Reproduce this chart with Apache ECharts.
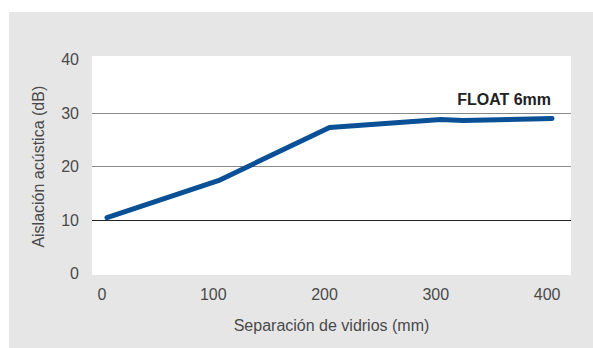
<!DOCTYPE html>
<html>
<head>
<meta charset="utf-8">
<script src="https://cdn.jsdelivr.net/npm/echarts@6/dist/echarts.min.js"></script>
<style>
html,body{margin:0;padding:0;background:#ffffff;}
#c{width:593px;height:348px;}
</style>
</head>
<body>
<div id="c"></div>
<script>
const separationMm = [0, 100, 200, 300, 320, 400];
const insulationDb = [10.5, 17.4, 27.3, 28.8, 28.6, 29.0];
const xTickLabels = [0, 100, 200, 300, 400];
const yTickLabels = [0, 10, 20, 30, 40];
const seriesName = 'FLOAT 6mm';
const xAxisTitle = 'Separación de vidrios (mm)';
const yAxisTitle = 'Aislación acústica (dB)';

const chart = echarts.init(document.getElementById('c'), null, {renderer: 'svg'});
const font = '"Liberation Sans", Arial, sans-serif';
const data = separationMm.map((x, i) => [x, insulationDb[i]]);

chart.setOption({
  animation: false,
  backgroundColor: '#ffffff',
  graphic: [
    {type: 'rect', z: -100, silent: true, shape: {x: 9, y: 12, width: 584, height: 336}, style: {fill: '#e6e6e6'}},
    {type: 'rect', z: -99, silent: true, shape: {x: 92, y: 56, width: 479, height: 219}, style: {fill: '#ffffff'}}
  ],
  grid: {left: 92, right: 22, top: 59.5, bottom: 74.1, containLabel: false},
  xAxis: {
    type: 'value',
    min: -13.5,
    max: 417,
    name: xAxisTitle,
    nameLocation: 'middle',
    nameGap: 44,
    nameTextStyle: {fontFamily: font, fontSize: 16, color: '#4a4a4a'},
    axisLine: {show: false},
    axisTick: {show: false},
    splitLine: {show: false},
    axisLabel: {
      customValues: xTickLabels,
      fontFamily: font, fontSize: 16, color: '#4a4a4a', margin: 13,
      padding: [0, 10, 0, 0]
    }
  },
  yAxis: {
    type: 'value',
    min: 0,
    max: 40,
    interval: 10,
    name: yAxisTitle,
    nameLocation: 'middle',
    nameGap: 46,
    nameTextStyle: {fontFamily: font, fontSize: 16, color: '#4a4a4a'},
    axisLine: {show: false},
    axisTick: {show: false},
    axisLabel: {fontFamily: font, fontSize: 16, color: '#4a4a4a', margin: 13,
      formatter: v => yTickLabels.includes(v) ? String(v) : ''},
    splitLine: {show: true, lineStyle: {width: 1, color: ['transparent', '#222222', '#888888', '#888888', 'transparent']}}
  },
  series: [{
    name: seriesName,
    type: 'line',
    data: data,
    showSymbol: false,
    symbol: 'none',
    lineStyle: {color: '#0a5096', width: 5, cap: 'round', join: 'round'},
    endLabel: {
      show: true, formatter: seriesName, distance: 0, align: 'right', verticalAlign: 'bottom',
      offset: [-1, -11],
      fontFamily: font, fontSize: 16, fontWeight: 'bold', color: '#222222'
    },
    z: 3
  }]
});
</script>
</body>
</html>
